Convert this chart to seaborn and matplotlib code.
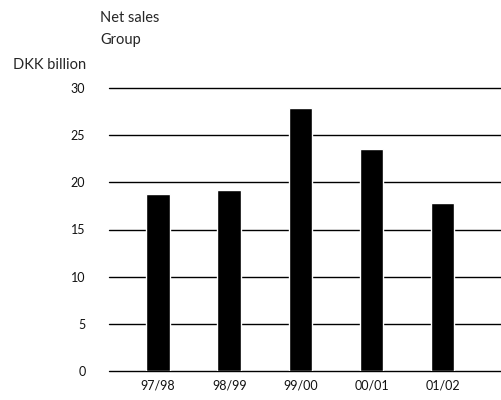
import pandas as pd
import seaborn as sns
import matplotlib.pyplot as plt

# Net sales, Group (DKK billion)
years = ["97/98", "98/99", "99/00", "00/01", "01/02"]
net_sales = [18.8, 19.2, 27.9, 23.5, 17.8]
yticks = [0, 5, 10, 15, 20, 25, 30]

data = pd.DataFrame({"year": years, "sales": net_sales})

sns.set_style("white")
plt.rcParams["font.family"] = ["Lato", "DejaVu Sans"]

fig = plt.figure(figsize=(5.01, 4.0), dpi=100)
ax = fig.add_axes([109 / 501, 29 / 400, 392 / 501, 283 / 400])

sns.barplot(data=data, x="year", y="sales", color="black", width=0.33,
            saturation=1, ax=ax, zorder=3)

ax.set_xlim(-0.69, 4.82)
ax.set_ylim(0, 30)
ax.set_yticks(yticks)
ax.set_yticklabels([str(t) for t in yticks])

for t in yticks:
    ax.axhline(t, color="black", linewidth=1.0, zorder=1, clip_on=False)

sns.despine(ax=ax, left=True, bottom=True)
ax.tick_params(axis="y", length=0, pad=17, labelsize=9, labelcolor="#111111")
ax.tick_params(axis="x", length=0, pad=6, labelsize=9, labelcolor="#111111")
ax.set_xlabel("")
ax.set_ylabel("")

fig.text(100 / 501, 1 - 18 / 400, "Net sales", fontsize=10.5, va="center", ha="left")
fig.text(100 / 501, 1 - 40 / 400, "Group", fontsize=10.5, va="center", ha="left")
fig.text(86 / 501, 1 - 65 / 400, "DKK billion", fontsize=10.5, va="center", ha="right")

fig.savefig("out.png", dpi=100)
